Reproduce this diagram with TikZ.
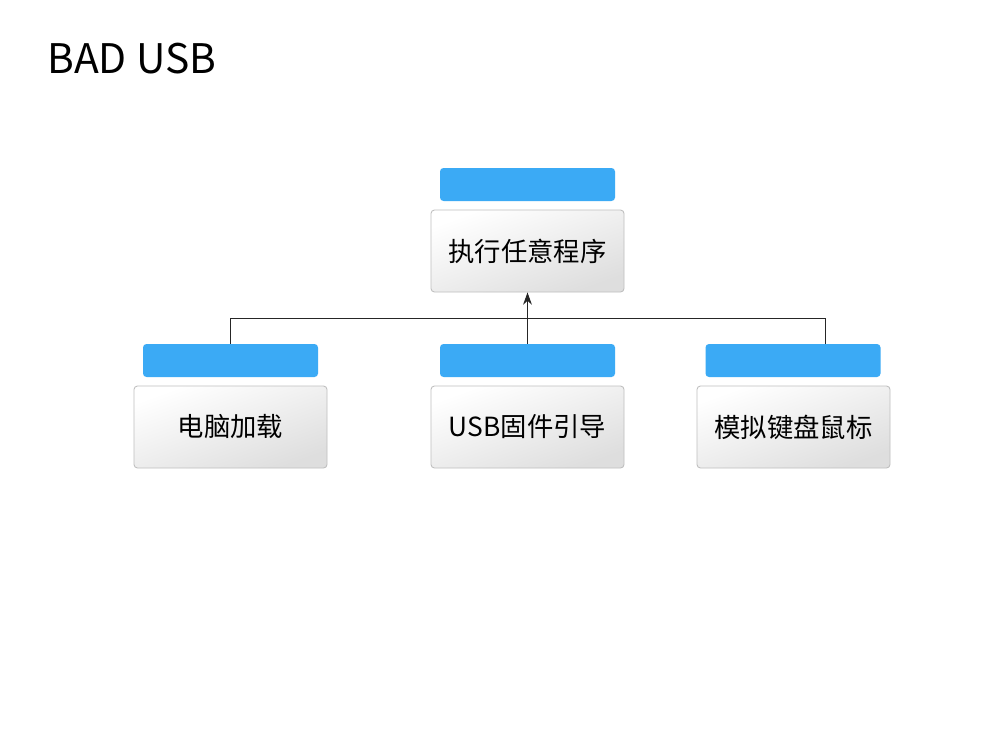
\documentclass[tikz,border=0pt]{standalone}
\usepackage{fontspec}
\setmainfont{Noto Sans CJK SC}
\newfontfamily\cjk{Noto Sans CJK SC}
\usetikzlibrary{arrows.meta,shadings}
\definecolor{barblue}{RGB}{59,170,245}
\tikzset{
  bar/.style={fill=barblue, draw=none, rounded corners=2pt, minimum width=175*0.02cm, minimum height=33*0.02cm, inner sep=0pt},
  box/.style={draw=black!25, line width=0.5pt, rounded corners=2pt, top color=white, bottom color=black!13, shading angle=20, minimum width=193*0.02cm, minimum height=82*0.02cm, inner sep=0pt, font=\cjk\fontsize{15}{17}\selectfont},
  link/.style={draw=black!85, line width=0.55pt},
}
\begin{document}
\begin{tikzpicture}[x=0.02cm,y=-0.02cm]
\useasboundingbox[fill=white] (0,0) rectangle (1000,750);
\node[anchor=west, font=\fontsize{23.2}{26}\selectfont, inner sep=0pt] (title) at (47,59) {BAD USB};
% top
\node[bar] (tbar) at (527.5,184.5) {};
\node[box] (top) at (527.5,251) {执行任意程序};
% bottom
\node[bar] (lbar) at (230.5,360.5) {};
\node[bar] (mbar) at (527.5,360.5) {};
\node[bar] (rbar) at (793,360.5) {};
\node[box] (left) at (230.5,427) {电脑加载};
\node[box] (mid) at (527.5,427) {USB固件引导};
\node[box] (right) at (793.5,427) {模拟键盘鼠标};
\coordinate (hl) at (230.5,318);
\coordinate (hr) at (825,318);
\draw[link] (lbar.north) -- (hl) -- (hr) -- (hr |- rbar.north);
\draw[link,-{Stealth[length=7pt,width=5pt]}] (mbar.north) -- (top.south);
\end{tikzpicture}
\end{document}
